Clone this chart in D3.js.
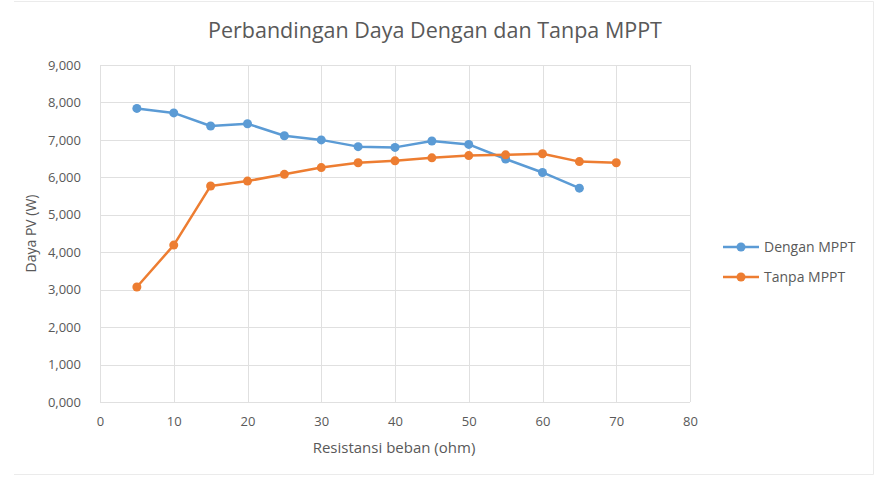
<!DOCTYPE html>
<html>
<head>
<meta charset="utf-8">
<script src="https://cdn.jsdelivr.net/npm/d3@7"></script>
<style>
  body { margin: 0; background: #fff; }
  svg text { font-family: "Open Sans", sans-serif; fill: #595959; }
  .grid line { stroke: #e0e0e0; stroke-width: 1; }
  .axis path, .axis line { display: none; }
</style>
</head>
<body>
<svg id="chart" width="877" height="479"></svg>
<script>
// data
var resistansi = [5, 10, 15, 20, 25, 30, 35, 40, 45, 50, 55, 60, 65, 70];
var denganMPPT = [7.84, 7.72, 7.37, 7.43, 7.11, 7.00, 6.82, 6.80, 6.97, 6.88, 6.49, 6.13, 5.71];
var tanpaMPPT  = [3.07, 4.19, 5.77, 5.90, 6.08, 6.26, 6.39, 6.44, 6.52, 6.58, 6.60, 6.63, 6.42, 6.39];
var xTicks = [0, 10, 20, 30, 40, 50, 60, 70, 80];
var yTicks = [0, 1, 2, 3, 4, 5, 6, 7, 8, 9];

var series = [
    { name: "Dengan MPPT", color: "#5B9BD5", values: denganMPPT },
    { name: "Tanpa MPPT",  color: "#ED7D31", values: tanpaMPPT }
];

var svg = d3.select("#chart");
var margin = {top: 65, left: 100, right: 190, bottom: 77},
    wd = 877, ht = 479;

// faint chart frame (top, right, bottom)
svg.append("path")
    .attr("d", "M14,1.5H873.5V474.5H14")
    .attr("fill", "none").attr("stroke", "#ebebeb");

var x = d3.scaleLinear().domain([0, 80]).range([margin.left, wd - margin.right + 3]);
var y = d3.scaleLinear().domain([0, 9]).range([ht - margin.bottom, margin.top]);

// gridlines
var grid = svg.append("g").attr("class", "grid");
grid.selectAll(".h").data(yTicks).enter().append("line")
    .attr("x1", x(0)).attr("x2", x(80))
    .attr("y1", function(d) { return Math.round(y(d)) + 0.5; })
    .attr("y2", function(d) { return Math.round(y(d)) + 0.5; });
grid.selectAll(".v").data(xTicks).enter().append("line")
    .attr("y1", y(0)).attr("y2", y(9))
    .attr("x1", function(d) { return Math.round(x(d)) + 0.5; })
    .attr("x2", function(d) { return Math.round(x(d)) + 0.5; });

// axes
svg.append("g")
    .attr("class", "axis")
    .attr("transform", "translate(" + (x(0) - 16) + ",0)")
    .call(d3.axisLeft(y).tickValues(yTicks).tickSize(0)
        .tickFormat(function(d) { return d + ",000"; }))
    .selectAll("text").style("font-size", "13px").style("font-family", "Open Sans, sans-serif").attr("fill", "#595959");
svg.append("g")
    .attr("class", "axis")
    .attr("transform", "translate(0," + (y(0) + 12) + ")")
    .call(d3.axisBottom(x).tickValues(xTicks).tickSize(0))
    .selectAll("text").style("font-size", "13px").style("font-family", "Open Sans, sans-serif").attr("fill", "#595959");

// titles
svg.append("text")
    .attr("x", 435).attr("y", 38)
    .attr("text-anchor", "middle")
    .style("font-size", "21.5px")
    .text("Perbandingan Daya Dengan dan Tanpa MPPT");
svg.append("text")
    .attr("x", 394).attr("y", 453)
    .attr("text-anchor", "middle")
    .style("font-size", "15px")
    .text("Resistansi beban (ohm)");
svg.append("text")
    .attr("transform", "translate(36," + ((y(0) + y(9)) / 2) + ") rotate(-90)")
    .attr("text-anchor", "middle")
    .style("font-size", "14px")
    .text("Daya PV (W)");

// lines and markers
var line = d3.line()
    .x(function(d, i) { return x(resistansi[i]); })
    .y(function(d) { return y(d); });

series.forEach(function(s) {
    svg.append("path")
        .datum(s.values)
        .attr("d", line)
        .attr("fill", "none")
        .attr("stroke", s.color)
        .attr("stroke-width", 2.5)
        .attr("stroke-linejoin", "round");
    svg.append("g").selectAll("circle")
        .data(s.values)
        .enter().append("circle")
            .attr("cx", function(d, i) { return x(resistansi[i]); })
            .attr("cy", function(d) { return y(d); })
            .attr("r", 4.5)
            .attr("fill", s.color);
});

// legend
var legend = svg.append("g").attr("transform", "translate(723,247)");
series.forEach(function(s, i) {
    var g = legend.append("g").attr("transform", "translate(0," + (i * 30) + ")");
    g.append("line").attr("x1", 0).attr("x2", 36)
        .attr("stroke", s.color).attr("stroke-width", 2.5);
    g.append("circle").attr("cx", 18).attr("r", 4.5).attr("fill", s.color);
    g.append("text").attr("x", 41).attr("dy", "0.35em")
        .style("font-size", "14px")
        .text(s.name);
});
</script>
</body>
</html>
